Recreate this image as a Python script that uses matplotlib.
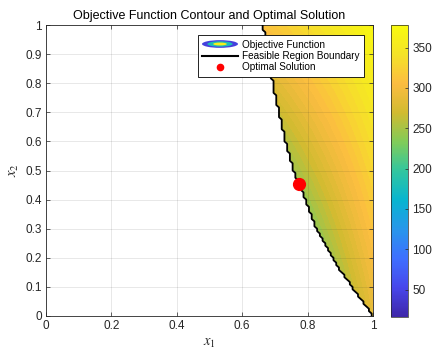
import numpy as np
import matplotlib
matplotlib.use("Agg")
import matplotlib.pyplot as plt
from matplotlib.colors import LinearSegmentedColormap, Normalize
from matplotlib.legend_handler import HandlerBase
from matplotlib.patches import Ellipse, Patch
from matplotlib.lines import Line2D

plt.rcParams["font.family"] = ["Liberation Sans", "DejaVu Sans"]
plt.rcParams["mathtext.fontset"] = "stix"

# feasible region boundary (x2 -> x1)
bnd_x2 = [0.0, 0.078, 0.192, 0.307, 0.422, 0.502, 0.593, 0.708, 0.822, 1.0]
bnd_x1 = [1.0, 0.950, 0.879, 0.823, 0.787, 0.756, 0.734, 0.710, 0.690, 0.664]

# objective f = c0 + c1*x1 + c2*x2 + c3*x1*x2 (fitted to the colours)
obj_coef = [-206, 491, 393, -306]

opt_x1 = 0.774
opt_x2 = 0.454

clim = [16, 378]
cbar_ticks = [50, 100, 150, 200, 250, 300, 350]
x_ticks = [0, 0.2, 0.4, 0.6, 0.8, 1]
y_ticks = [0, 0.1, 0.2, 0.3, 0.4, 0.5, 0.6, 0.7, 0.8, 0.9, 1]

# parula-like colormap
parula_pts = [(0.2422, 0.1504, 0.6603), (0.2803, 0.2782, 0.9221),
              (0.2440, 0.4358, 0.9988), (0.1540, 0.5902, 0.9218),
              (0.0297, 0.7082, 0.8163), (0.1938, 0.7758, 0.6251),
              (0.5044, 0.7993, 0.3480), (0.8184, 0.7327, 0.1899),
              (0.9856, 0.7372, 0.2537), (0.9610, 0.8890, 0.1537),
              (0.9763, 0.9831, 0.0538)]
parula = LinearSegmentedColormap.from_list("parula", parula_pts)
dark = (0.15, 0.15, 0.15)


class ContourIcon(HandlerBase):
    def create_artists(self, legend, orig_handle, xdescent, ydescent,
                       width, height, fontsize, trans):
        cx = width / 2 - xdescent
        cy = height / 2 - ydescent
        arts = []
        for frac, val in [(1.0, 0.08), (0.7, 0.45), (0.38, 0.95)]:
            arts.append(Ellipse((cx, cy), width * frac, height * 1.1 * frac,
                                facecolor=parula(val), edgecolor="none",
                                transform=trans))
        return arts


fig = plt.figure(figsize=(4.37, 3.61), dpi=100)
ax = fig.add_axes([46 / 437, 1 - 316 / 361, 327 / 437, 291 / 361])
cax = fig.add_axes([391 / 437, 1 - 317 / 361, 17 / 437, 292 / 361])

g = np.linspace(0, 1, 121)
X1, X2 = np.meshgrid(g, g)
F = obj_coef[0] + obj_coef[1] * X1 + obj_coef[2] * X2 + obj_coef[3] * X1 * X2
feas = (X1 >= np.interp(X2, bnd_x2, bnd_x1)).astype(float)

norm = Normalize(clim[0], clim[1])
ax.contourf(X1, X2, F, levels=np.linspace(clim[0], clim[1], 60), cmap=parula, norm=norm)
ax.contourf(X1, X2, feas, levels=[-0.5, 0.5], colors="white")
ax.contour(X1, X2, feas, levels=[0.5], colors="k", linewidths=1.3, zorder=3)
ax.plot(opt_x1, opt_x2, "o", color="red", markersize=8.5, zorder=4)

ax.set_xlim(0, 1)
ax.set_ylim(0, 1)
ax.set_xticks(x_ticks)
ax.set_yticks(y_ticks)
ax.set_xticklabels([f"{v:g}" for v in x_ticks])
ax.set_yticklabels([f"{v:g}" for v in y_ticks])
ax.set_axisbelow(False)
ax.grid(True, color=dark, alpha=0.15, linewidth=0.5)
ax.tick_params(direction="in", length=3, width=0.5, labelsize=8.5,
               colors=dark, top=True, right=True, pad=3)
for s in ax.spines.values():
    s.set_color(dark)
    s.set_linewidth(0.6)

ax.set_xlabel("$x_1$", fontsize=10.5, color=dark, labelpad=3)
ax.set_ylabel("$x_2$", fontsize=10.5, color=dark, labelpad=3)
ax.set_title("Objective Function Contour and Optimal Solution", fontsize=9, pad=4)

sm = plt.cm.ScalarMappable(norm=norm, cmap=parula)
cb = fig.colorbar(sm, cax=cax, ticks=cbar_ticks)
cb.outline.set_edgecolor(dark)
cb.outline.set_linewidth(0.5)
cax.tick_params(direction="in", length=2.5, width=0.5, labelsize=8.5,
                colors=dark, pad=3)

handles = [Patch(), Line2D([], [], color="k", linewidth=1.5),
           Line2D([], [], marker="o", color="red", linestyle="none", markersize=4.5)]
labels = ["Objective Function", "Feasible Region Boundary", "Optimal Solution"]
leg = ax.legend(handles, labels, handler_map={Patch: ContourIcon()},
                loc="upper right", bbox_to_anchor=(364 / 437, 1 - 35 / 361),
                bbox_transform=fig.transFigure, borderaxespad=0,
                fontsize=7.2, fancybox=False, framealpha=1, edgecolor="k",
                handlelength=3.6, handletextpad=0.4, labelspacing=0.15,
                borderpad=0.45)
leg.get_frame().set_linewidth(0.6)
leg.set_zorder(5)

fig.savefig("out.png", dpi=100)
